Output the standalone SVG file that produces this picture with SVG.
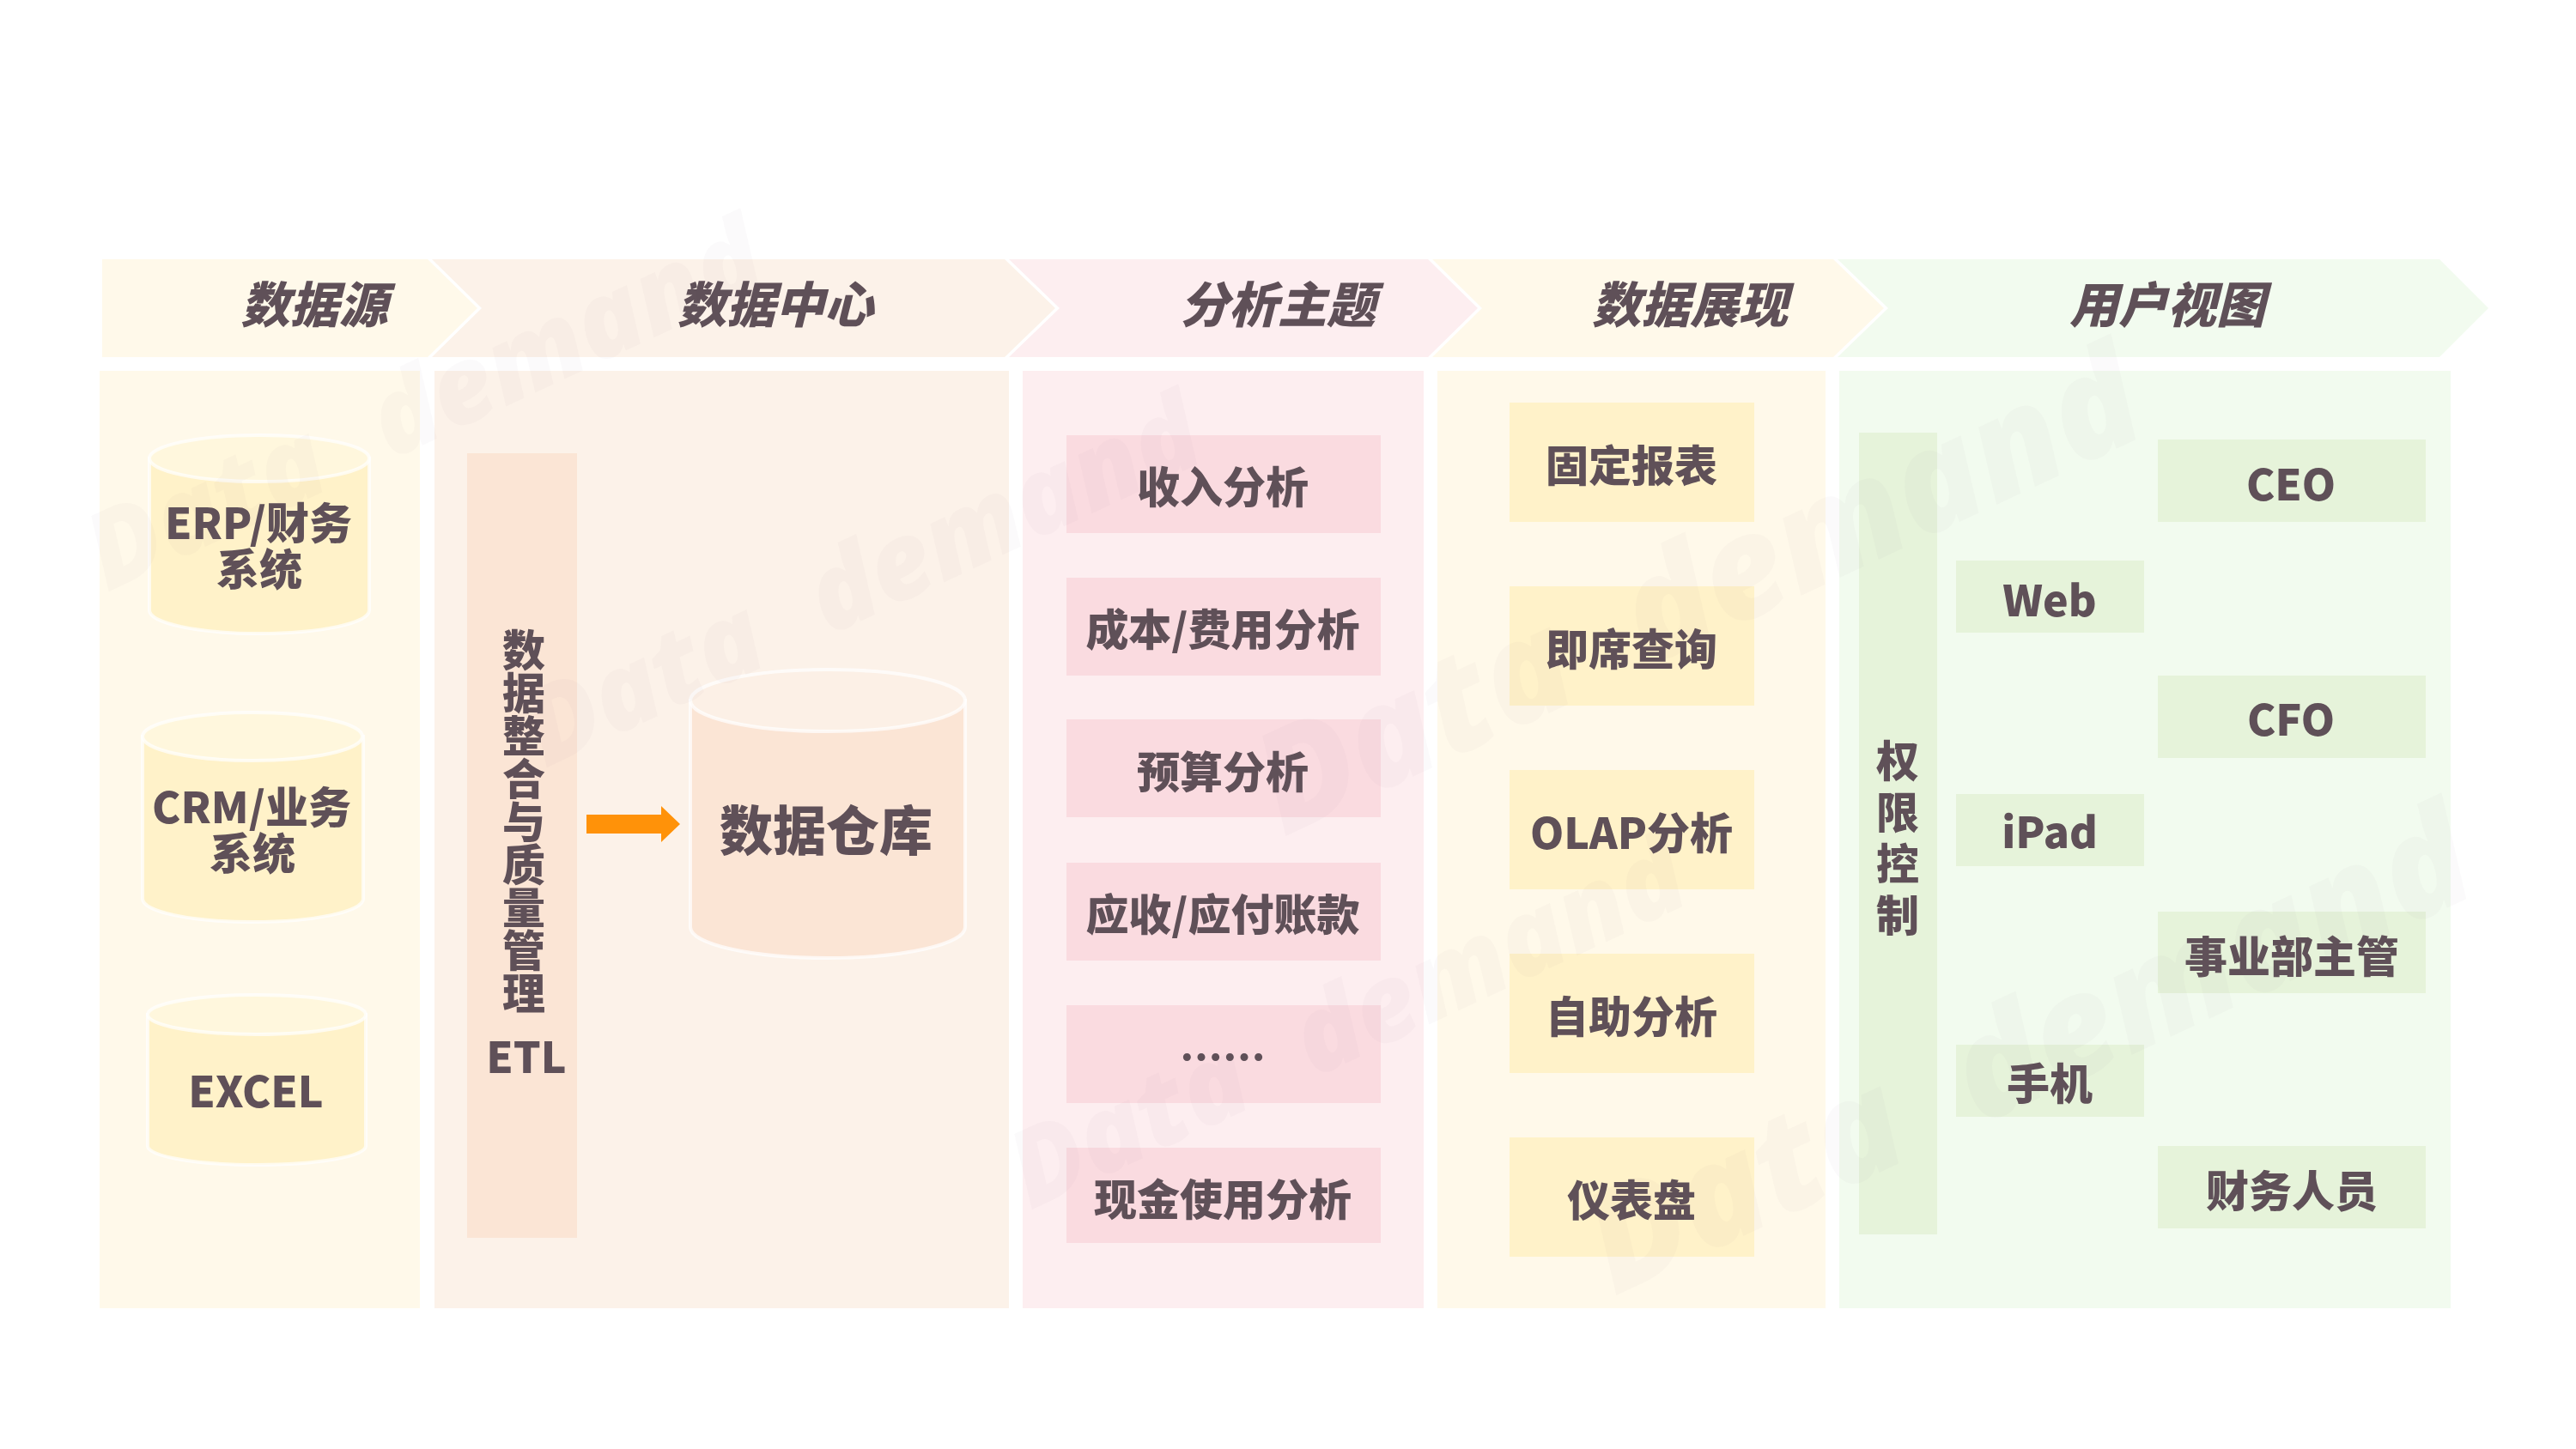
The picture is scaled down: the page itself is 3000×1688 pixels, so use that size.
<svg xmlns="http://www.w3.org/2000/svg" width="3000" height="1688" viewBox="0 0 3000 1688">
<style>
text{font-family:"Noto Sans CJK SC","Noto Sans",sans-serif;font-weight:900;fill:#5f5058;text-anchor:middle}
.h{font-size:57px;font-style:italic}
.t{font-size:50px}
.cyl{stroke:#fff;stroke-width:4;stroke-opacity:.7}
.wm{font-family:"Open Sans","Noto Sans",sans-serif;font-style:italic;font-weight:800;fill:#8a7a80;fill-opacity:.035;text-anchor:start;word-spacing:40px}
</style>
<rect width="3000" height="1688" fill="#fff"/>
<g id="headers">
<polygon points="119,302 498,302 556,359 498,416 119,416" fill="#fff9ea"/>
<polygon points="503,302 1170,302 1229,359 1170,416 503,416 561,359" fill="#fcf2e9"/>
<polygon points="1175,302 1663,302 1721,359 1663,416 1175,416 1234,359" fill="#fdeef0"/>
<polygon points="1668,302 2135,302 2194,359 2135,416 1668,416 1726,359" fill="#fff9ea"/>
<polygon points="2140,302 2841,302 2898,359 2841,416 2140,416 2199,359" fill="#f2fbef"/>
<text class="h" x="366" y="376">数据源</text>
<text class="h" x="903" y="376">数据中心</text>
<text class="h" x="1488" y="376">分析主题</text>
<text class="h" x="1968" y="376">数据展现</text>
<text class="h" x="2524" y="376">用户视图</text>
</g>
<g id="panels">
<rect x="116" y="432" width="373" height="1092" fill="#fff9ea"/>
<rect x="506" y="432" width="669" height="1092" fill="#fcf2e9"/>
<rect x="1191" y="432" width="467" height="1092" fill="#fdeef0"/>
<rect x="1674" y="432" width="452" height="1092" fill="#fff9ea"/>
<rect x="2142" y="432" width="712" height="1092" fill="#f2fbef"/>
</g>
<g id="erp">
<path class="cyl" d="M174,534V711C174,726 231,738 302,738S430,726 430,711V534Z" fill="#fff2c9"/>
<ellipse class="cyl" cx="302" cy="534" rx="128" ry="27" fill="#fff7dd"/>
<text class="t" x="301" y="628">ERP/财务</text><text class="t" x="302" y="682">系统</text>
</g>
<g id="crm">
<path class="cyl" d="M166,858V1047C166,1062 222,1074 294,1074S423,1062 423,1047V858Z" fill="#fff2c9"/>
<ellipse class="cyl" cx="294" cy="858" rx="128" ry="28" fill="#fff7dd"/>
<text class="t" x="293" y="959">CRM/业务</text><text class="t" x="294" y="1013">系统</text>
</g>
<g id="excel">
<path class="cyl" d="M172,1182V1335C172,1347 228,1357 299,1357S426,1347 426,1335V1182Z" fill="#fff2c9"/>
<ellipse class="cyl" cx="299" cy="1182" rx="127" ry="23" fill="#fff7dd"/>
<text class="t" x="298" y="1290">EXCEL</text>
</g>
<g id="etl">
<rect x="544" y="528" width="128" height="914" fill="#fbe5d5"/>
<text class="t" x="610" y="776"><tspan x="610">数</tspan><tspan x="610" dy="50">据</tspan><tspan x="610" dy="50">整</tspan><tspan x="610" dy="50">合</tspan><tspan x="610" dy="50">与</tspan><tspan x="610" dy="50">质</tspan><tspan x="610" dy="50">量</tspan><tspan x="610" dy="50">管</tspan><tspan x="610" dy="50">理</tspan></text>
<text class="t" x="613" y="1250">ETL</text>
</g>
<g id="connectors">
<polygon points="683,949 770,949 770,939 792,960 770,981 770,971 683,971" fill="#ff9209"/>
</g>
<g id="warehouse">
<path class="cyl" d="M804,816V1080C804,1100 876,1116 964,1116S1124,1100 1124,1080V816Z" fill="#fbe5d5"/>
<ellipse class="cyl" cx="964" cy="816" rx="160" ry="36" fill="#fcf0e6"/>
<text x="962" y="991" font-size="62">数据仓库</text>
</g>
<g id="topics" fill="#fadbe0">
<rect x="1242" y="507" width="366" height="114"/><rect x="1242" y="673" width="366" height="114"/><rect x="1242" y="838" width="366" height="114"/><rect x="1242" y="1005" width="366" height="114"/><rect x="1242" y="1171" width="366" height="114"/><rect x="1242" y="1337" width="366" height="111"/>
<text class="t" x="1424" y="586">收入分析</text>
<text class="t" x="1424" y="752">成本/费用分析</text>
<text class="t" x="1424" y="918">预算分析</text>
<text class="t" x="1424" y="1084">应收/应付账款</text>
<text class="t" x="1424" y="1250">……</text>
<text class="t" x="1424" y="1416">现金使用分析</text>
</g>
<g id="views" fill="#fff2c9">
<rect x="1758" y="469" width="285" height="139"/><rect x="1758" y="683" width="285" height="139"/><rect x="1758" y="897" width="285" height="139"/><rect x="1758" y="1111" width="285" height="139"/><rect x="1758" y="1325" width="285" height="139"/>
<text class="t" x="1900" y="561">固定报表</text>
<text class="t" x="1900" y="775">即席查询</text>
<text class="t" x="1900" y="989">OLAP分析</text>
<text class="t" x="1900" y="1203">自助分析</text>
<text class="t" x="1900" y="1417">仪表盘</text>
</g>
<g id="users" fill="#e6f3da">
<rect x="2165" y="504" width="91" height="934"/>
<rect x="2278" y="653" width="219" height="84"/><rect x="2278" y="925" width="219" height="84"/><rect x="2278" y="1217" width="219" height="84"/>
<rect x="2513" y="512" width="312" height="96"/><rect x="2513" y="787" width="312" height="96"/><rect x="2513" y="1062" width="312" height="95"/><rect x="2513" y="1335" width="312" height="96"/>
<text class="t" x="2210" y="905"><tspan x="2210">权</tspan><tspan x="2210" dy="60">限</tspan><tspan x="2210" dy="60">控</tspan><tspan x="2210" dy="60">制</tspan></text>
<text class="t" x="2387" y="718">Web</text><text class="t" x="2387" y="988">iPad</text><text class="t" x="2387" y="1281">手机</text>
<text class="t" x="2668" y="583">CEO</text><text class="t" x="2668" y="857">CFO</text><text class="t" x="2669" y="1133">事业部主管</text><text class="t" x="2669" y="1406">财务人员</text>
</g>
<g id="watermarks">
<text class="wm" font-size="124" transform="translate(125,690) rotate(-25)">Data demand</text>
<text class="wm" font-size="124" transform="translate(635,895) rotate(-25)">Data demand</text>
<text class="wm" font-size="164" transform="translate(1495,975) rotate(-25)">Data demand</text>
<text class="wm" font-size="124" transform="translate(1200,1410) rotate(-25)">Data demand</text>
<text class="wm" font-size="164" transform="translate(1880,1510) rotate(-25)">Data demand</text>
</g>
</svg>
